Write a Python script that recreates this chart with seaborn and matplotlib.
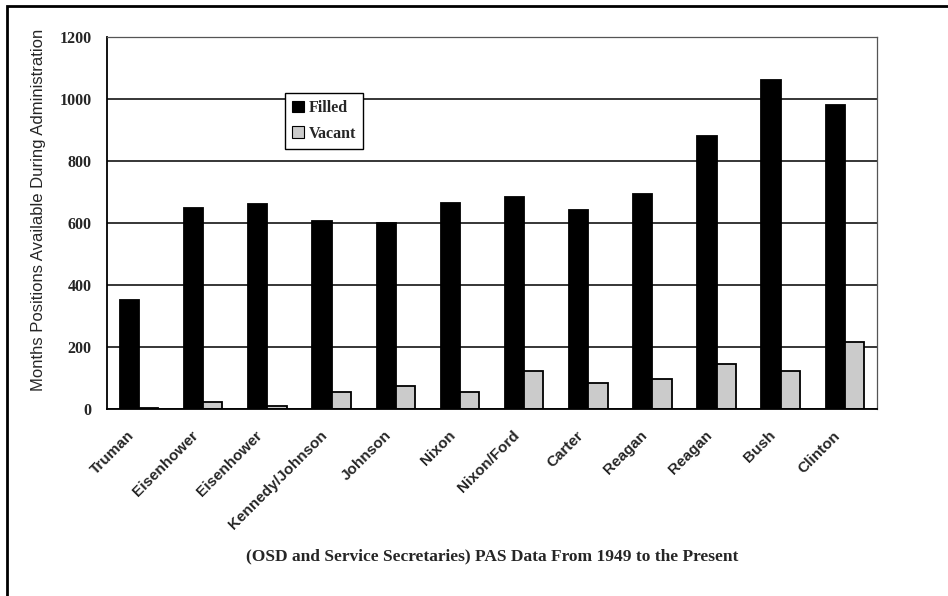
import matplotlib
matplotlib.use("Agg")
import matplotlib.pyplot as plt
import matplotlib.transforms as mtransforms
import seaborn as sns
import pandas as pd
from matplotlib.patches import Rectangle, Patch

categories = ['Truman', 'Eisenhower', 'Eisenhower', 'Kennedy/Johnson', 'Johnson', 'Nixon',
              'Nixon/Ford', 'Carter', 'Reagan', 'Reagan', 'Bush', 'Clinton']
filled = [353, 649, 662, 608, 600, 665, 683, 641, 692, 880, 1060, 981]
vacant = [4, 22, 11, 54, 73, 56, 124, 83, 96, 145, 124, 217]
series = ['Filled', 'Vacant']
yticks = [0, 200, 400, 600, 800, 1000, 1200]

term = list(range(len(categories)))
df = pd.DataFrame({
    'term': term * 2,
    'value': filled + vacant,
    'status': [series[0]] * len(categories) + [series[1]] * len(categories),
})

sns.set_style("white")
plt.rcParams['font.family'] = ['Liberation Sans', 'DejaVu Sans']

fig = plt.figure(figsize=(9.48, 5.96), dpi=100)
ax = fig.add_axes([107/948, 1 - 409/596, (877-107)/948, (409-37)/596])

palette = {'Filled': '#000000', 'Vacant': '#cbcbcb'}
sns.barplot(data=df, x='term', y='value', hue='status', order=term,
            hue_order=series, palette=palette, width=0.6, ax=ax,
            edgecolor='black', linewidth=1.3, legend=False, saturation=1)

ax.set_ylim(0, 1200)
ax.set_xlim(-0.5, len(categories) - 0.5)
ax.set_yticks(yticks)
ax.set_yticklabels([str(v) for v in yticks], family='Liberation Serif',
                   fontweight='bold', fontsize=11.5)
ax.yaxis.grid(True, color='black', linewidth=1.1)
ax.set_axisbelow(True)

ax.set_xticks(term)
ax.set_xticklabels(categories, rotation=45, ha='right', rotation_mode='anchor',
                   fontsize=11, fontweight='bold')
ax.tick_params(axis='x', which='major', length=0, pad=14)
ax.set_xticks([i + 0.5 for i in term], minor=True)
ax.tick_params(axis='x', which='minor', length=4, width=1, direction='out', color='black')
ax.tick_params(axis='y', length=4, width=1, direction='out', color='black', pad=7)
offset = mtransforms.ScaledTranslation(-12/100, 0, fig.dpi_scale_trans)
for lbl in ax.get_xticklabels():
    lbl.set_transform(lbl.get_transform() + offset)

for s in ['left', 'bottom']:
    ax.spines[s].set_color('black')
    ax.spines[s].set_linewidth(1.3)
for s in ['top', 'right']:
    ax.spines[s].set_color('#555555')
    ax.spines[s].set_linewidth(0.9)
    ax.spines[s].set_linestyle((0, (2, 1)))

ax.set_ylabel('Months Positions Available During Administration', fontsize=12)
ax.yaxis.set_label_coords(-0.079, 0.535)
ax.set_xlabel('(OSD and Service Secretaries) PAS Data From 1949 to the Present',
              family='Liberation Serif', fontweight='bold', fontsize=12.5, va='center')
ax.xaxis.set_label_coords(0.5, -0.395)

handles = [Patch(facecolor=palette[s], edgecolor='black', linewidth=0.8) for s in series]
leg = ax.legend(handles, series, loc='upper left', bbox_to_anchor=(0.231, 0.85),
                frameon=True, fancybox=False, edgecolor='black', framealpha=1,
                prop={'family': 'Liberation Serif', 'weight': 'bold', 'size': 11.5},
                handlelength=0.75, handleheight=0.75, handletextpad=0.3,
                borderpad=0.45, labelspacing=0.6, borderaxespad=0)
leg.get_frame().set_linewidth(1.0)

frame = Rectangle((7/948, -0.2), 1.2, 1.2 - 6/596, transform=fig.transFigure,
                  fill=False, edgecolor='black', linewidth=2, clip_on=False)
fig.patches.append(frame)

fig.savefig('out.png', dpi=100)
